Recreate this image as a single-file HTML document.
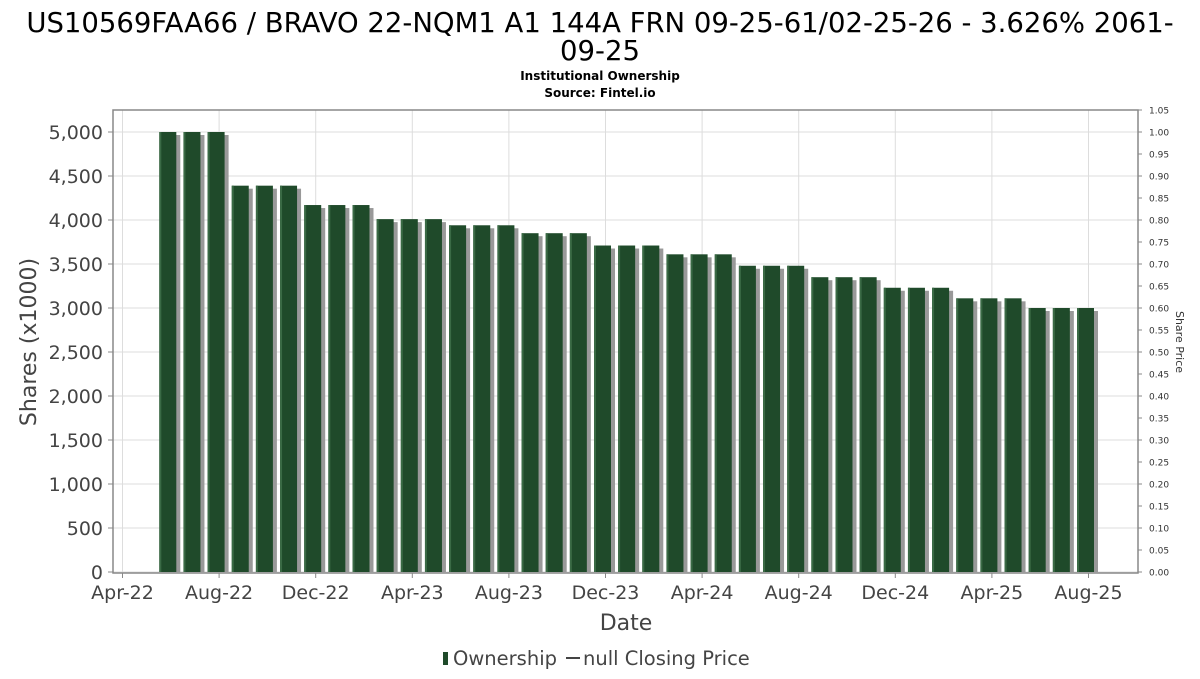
<!DOCTYPE html>
<html><head><meta charset="utf-8"><style>
body{margin:0;background:#fff;font-family:"DejaVu Sans","Liberation Sans",sans-serif}
svg text{font-family:"DejaVu Sans","Liberation Sans",sans-serif}
</style></head><body>
<svg id="chart" width="1200" height="675" xmlns="http://www.w3.org/2000/svg">
<text x="600" y="32" font-size="27.5" text-anchor="middle" fill="#000">US10569FAA66 / BRAVO 22-NQM1 A1 144A FRN 09-25-61/02-25-26 - 3.626% 2061-</text>
<text x="600" y="60" font-size="27.5" text-anchor="middle" fill="#000">09-25</text>
<text x="600" y="80" font-size="12" font-weight="bold" text-anchor="middle">Institutional Ownership</text>
<text x="600" y="97" font-size="12" font-weight="bold" text-anchor="middle">Source: Fintel.io</text>
<g id="grid"></g><g id="bars"></g><g id="axes"></g>
<rect x="113" y="110" width="1025" height="463" fill="none" stroke="#888" stroke-width="1.5"/>
<text transform="translate(36,342) rotate(-90)" font-size="22" text-anchor="middle" fill="#444">Shares (x1000)</text>
<text transform="translate(1176,342) rotate(90)" font-size="11" text-anchor="middle" fill="#333">Share Price</text>
<text x="626" y="630" font-size="22" text-anchor="middle" fill="#444">Date</text>
<g>
<rect x="443" y="652" width="5" height="13" fill="#1f4a2a"/>
<text x="453" y="665" font-size="19.5" fill="#444">Ownership</text>
<line x1="566" y1="658" x2="580" y2="658" stroke="#444" stroke-width="2"/>
<text x="583" y="665" font-size="19.5" fill="#444">null Closing Price</text>
</g>
</svg>
<script>
const xLabels=["Apr-22","Aug-22","Dec-22","Apr-23","Aug-23","Dec-23","Apr-24","Aug-24","Dec-24","Apr-25","Aug-25"];
const yTicks=[0,500,1000,1500,2000,2500,3000,3500,4000,4500,5000];
const y2Ticks=[0,0.05,0.1,0.15,0.2,0.25,0.3,0.35,0.4,0.45,0.5,0.55,0.6,0.65,0.7,0.75,0.8,0.85,0.9,0.95,1.0,1.05];
const barMonthIndex=[];for(let i=0;i<39;i++)barMonthIndex.push(i+2);
const shares=[5000,5000,5000,4390,4390,4390,4170,4170,4170,4010,4010,4010,3940,3940,3940,3850,3850,3850,3710,3710,3710,3610,3610,3610,3480,3480,3480,3350,3350,3350,3230,3230,3230,3110,3110,3110,3000,3000,3000];
const NS="http://www.w3.org/2000/svg";
const y=v=>572-v*0.088;
const y2=v=>572-v*(462/1.05);
const x=m=>122.5+m*24.15;
function mk(t,a,p){const e=document.createElementNS(NS,t);for(const k in a)e.setAttribute(k,a[k]);p.appendChild(e);return e;}
const grid=document.getElementById('grid'),bars=document.getElementById('bars'),axes=document.getElementById('axes');
yTicks.forEach(v=>{
 const l=mk('line',{x1:113,x2:1138,y1:y(v),y2:y(v),stroke:'#ddd'},grid);
 
 
 mk('line',{x1:108,x2:113,y1:y(v),y2:y(v),stroke:'#888'},axes);
 const t=mk('text',{x:103,y:y(v)+7,'font-size':19,'text-anchor':'end',fill:'#444'},axes);
 t.textContent=v.toLocaleString('en-US');
 
 
});
y2Ticks.forEach(v=>{
 mk('line',{x1:1138,x2:1142,y1:y2(v),y2:y2(v),stroke:'#888'},axes);
 const t=mk('text',{x:1149,y:y2(v)+3.5,'font-size':9,fill:'#333'},axes);
 t.textContent=v.toFixed(2);
 
 
});
xLabels.forEach((s,i)=>{
 const xx=x(i*4);
 const l=mk('line',{x1:xx,x2:xx,y1:110,y2:573,stroke:'#ddd'},grid);
 
 
 mk('line',{x1:xx,x2:xx,y1:573,y2:578,stroke:'#888'},axes);
 const t=mk('text',{x:xx,y:599,'font-size':19,'text-anchor':'middle',fill:'#444'},axes);
 t.textContent=s;
 
 
});
shares.forEach((v,i)=>{
 const cx=x(barMonthIndex[i])-3;
 const sh=mk('rect',{x:cx-8.5+4,y:y(v)+3,width:17,height:572-y(v)-3,fill:'#999'},bars);
 
 
 const b=mk('rect',{x:cx-8.5,y:y(v),width:17,height:572-y(v),fill:'#1f4a2a'},bars);
 
 
 mk('rect',{x:cx-8.5,y:y(v),width:2,height:572-y(v),fill:'#3a6a45'},bars);
});
</script>
</body></html>
